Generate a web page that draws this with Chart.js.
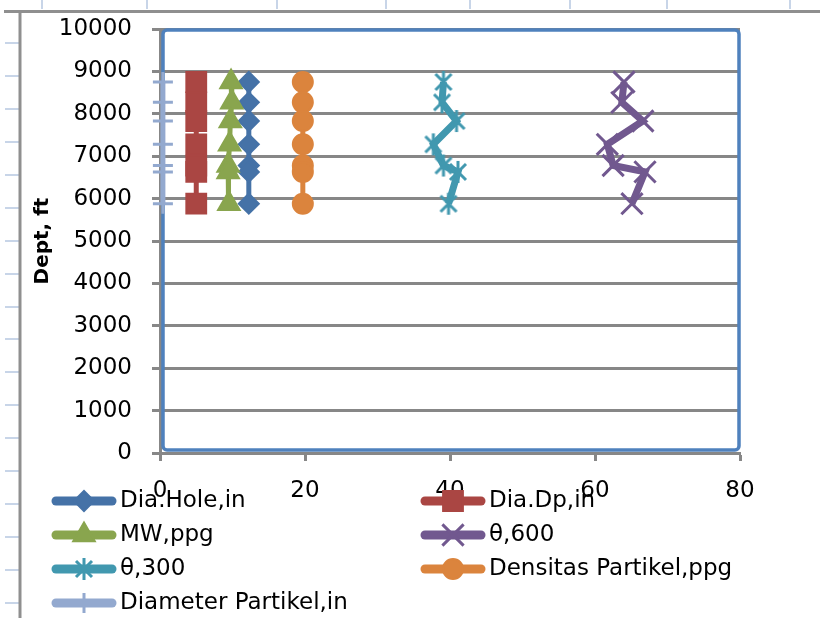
<!DOCTYPE html>
<html><head><meta charset="utf-8">
<script src="https://cdn.jsdelivr.net/npm/chart.js@4/dist/chart.umd.min.js"></script>
<style>html,body{margin:0;padding:0;background:#fff;}#wrap{width:820px;height:618px;position:relative;}</style>
</head><body><div id="wrap"><canvas id="c" width="820" height="618"></canvas></div>
<script>
// ---- data ----
const depthFt = [8750, 8270, 7830, 7280, 6780, 6630, 5880];
const diaHoleIn = [12.25, 12.25, 12.25, 12.25, 12.25, 12.25, 12.25];
const diaDpIn = [5, 5, 5, 5, 5, 5, 5];
const mwPpg = [9.8, 9.9, 9.7, 9.6, 9.4, 9.4, 9.5];
const theta600 = [64.0, 63.7, 66.6, 61.7, 62.5, 66.9, 65.1];
const theta300 = [39.1, 38.9, 40.9, 37.7, 39.1, 41.1, 39.8];
const densitasPartikelPpg = [19.7, 19.7, 19.7, 19.7, 19.7, 19.7, 19.7];
const diameterPartikelIn = [0.4, 0.4, 0.4, 0.4, 0.4, 0.4, 0.4];
const seriesNames = ['Dia.Hole,in', 'Dia.Dp,in', 'MW,ppg', 'θ,600', 'θ,300', 'Densitas Partikel,ppg', 'Diameter Partikel,in'];
const xTickValues = [0, 20, 40, 60, 80];
const yTickValues = [0, 1000, 2000, 3000, 4000, 5000, 6000, 7000, 8000, 9000, 10000];
const yTitle = 'Dept, ft';

// ---- styles ----
const FONT = '"DejaVu Sans", sans-serif';
function starMarker(color) {
  const s = 24, c = document.createElement('canvas');
  c.width = s; c.height = s;
  const g = c.getContext('2d');
  g.strokeStyle = color; g.lineWidth = 3;
  g.beginPath();
  g.moveTo(4, 4); g.lineTo(20, 20);
  g.moveTo(20, 4); g.lineTo(4, 20);
  g.moveTo(12, 1); g.lineTo(12, 23);
  g.stroke();
  return c;
}
const styles = [
  {color: '#4572A7', pointStyle: 'rectRot', radius: 10, bw: 2, lw: 5},
  {color: '#AA4643', pointStyle: 'rect', radius: 14, bw: 2, lw: 5},
  {color: '#89A54E', pointStyle: 'triangle', radius: 12.5, bw: 2, lw: 5},
  {color: '#71588F', pointStyle: 'crossRot', radius: 15, bw: 3, lw: 7},
  {color: '#4198AF', pointStyle: starMarker('#4198AF'), radius: 12, bw: 3, lw: 7},
  {color: '#DB843D', pointStyle: 'circle', radius: 10, bw: 2, lw: 5},
  {color: '#93A9CF', pointStyle: 'cross', radius: 10, bw: 3, lw: 5}
];
const seriesValues = [diaHoleIn, diaDpIn, mwPpg, theta600, theta300, densitasPartikelPpg, diameterPartikelIn];

const datasets = seriesValues.map((vals, i) => ({
  label: seriesNames[i],
  data: vals.map((v, k) => ({x: v, y: depthFt[k]})),
  showLine: true,
  borderColor: styles[i].color,
  backgroundColor: styles[i].color,
  borderWidth: styles[i].lw,
  pointStyle: styles[i].pointStyle,
  pointRadius: styles[i].radius,
  pointHoverRadius: styles[i].radius,
  pointBorderWidth: styles[i].bw,
  pointBackgroundColor: styles[i].color,
  pointBorderColor: styles[i].color,
  clip: false,
  order: 7 - i
}));

const GRAY = '#878787';

const sheetDecor = {
  id: 'sheetDecor',
  beforeDraw(chart) {
    const ctx = chart.ctx;
    ctx.save();
    ctx.strokeStyle = '#c8d5e8';
    ctx.lineWidth = 2;
    [42, 147, 277, 386, 470, 570, 667, 790].forEach(x => {
      ctx.beginPath(); ctx.moveTo(x, 0); ctx.lineTo(x, 9); ctx.stroke();
    });
    [43, 76, 109, 142, 175, 208, 241, 274, 307, 339, 372, 405, 438, 471, 504, 537, 570, 603].forEach(y => {
      ctx.beginPath(); ctx.moveTo(5, y); ctx.lineTo(19, y); ctx.stroke();
    });
    ctx.strokeStyle = '#8f8f8f';
    ctx.lineWidth = 3;
    ctx.beginPath(); ctx.moveTo(4, 11.5); ctx.lineTo(820, 11.5); ctx.stroke();
    ctx.beginPath(); ctx.moveTo(20, 10); ctx.lineTo(20, 618); ctx.stroke();
    ctx.restore();
  }
};

const plotBorder = {
  id: 'plotBorder',
  beforeDatasetsDraw(chart) {
    const a = chart.chartArea, ctx = chart.ctx;
    ctx.save();
    ctx.strokeStyle = '#4F81BD';
    ctx.lineWidth = 3.5;
    ctx.beginPath();
    if (ctx.roundRect) ctx.roundRect(a.left + 3, a.top + 1, a.right - a.left - 4, a.bottom - a.top - 4, 4);
    else ctx.rect(a.left + 3, a.top + 1, a.right - a.left - 4, a.bottom - a.top - 4);
    ctx.stroke();
    ctx.restore();
  }
};

const customLegend = {
  id: 'customLegend',
  afterDraw(chart) {
    const ctx = chart.ctx;
    const colX = [52, 421], rowY = [501, 535, 569, 603], lineLen = 64;
    ctx.save();
    chart.data.datasets.forEach((ds, i) => {
      const x0 = colX[i % 2], y = rowY[Math.floor(i / 2)];
      ctx.strokeStyle = ds.borderColor;
      ctx.lineWidth = 9;
      ctx.lineCap = 'round';
      ctx.beginPath(); ctx.moveTo(x0 + 4, y); ctx.lineTo(x0 + lineLen - 4, y); ctx.stroke();
      ctx.lineCap = 'butt';
      ctx.fillStyle = ds.pointBackgroundColor;
      ctx.strokeStyle = ds.pointBorderColor;
      ctx.lineWidth = ds.pointBorderWidth;
      Chart.helpers.drawPoint(ctx, {pointStyle: ds.pointStyle, radius: ds.pointRadius, rotation: 0, borderWidth: ds.pointBorderWidth}, x0 + lineLen / 2, y);
      ctx.fillStyle = '#000';
      ctx.font = '23px ' + FONT;
      ctx.textBaseline = 'middle';
      ctx.textAlign = 'left';
      ctx.fillText(ds.label, x0 + lineLen + 4, y);
    });
    ctx.restore();
  }
};

new Chart(document.getElementById('c'), {
  type: 'scatter',
  data: {datasets},
  plugins: [sheetDecor, plotBorder, customLegend],
  options: {
    responsive: false,
    animation: false,
    devicePixelRatio: 1,
    layout: {padding: {top: 29, left: 0, right: 80, bottom: 120}},
    plugins: {legend: {display: false}, tooltip: {enabled: false}},
    scales: {
      x: {
        type: 'linear', min: 0, max: 80,
        afterBuildTicks: s => { s.ticks = xTickValues.map(v => ({value: v})); },
        afterFit: s => { s.height = 45; s.paddingLeft = 0; s.paddingRight = 0; },
        grid: {display: true, drawOnChartArea: false, drawTicks: true, tickLength: 8, tickColor: GRAY, tickWidth: 3},
        border: {display: true, color: GRAY, width: 3},
        ticks: {color: '#000', font: {family: FONT, size: 23}, padding: 16, maxRotation: 0, callback: v => String(v)}
      },
      y: {
        type: 'linear', min: 0, max: 10000,
        afterBuildTicks: s => { s.ticks = yTickValues.map(v => ({value: v})); },
        afterFit: s => { s.width = 160; s.paddingTop = 0; s.paddingBottom = 0; },
        grid: {display: true, color: GRAY, lineWidth: 3, drawTicks: true, tickLength: 8, tickColor: GRAY, tickWidth: 3},
        border: {display: true, color: GRAY, width: 3},
        ticks: {color: '#000', font: {family: FONT, size: 23}, padding: 20, callback: v => String(v)},
        title: {display: true, text: yTitle, color: '#000', font: {family: FONT, size: 20, weight: 'bold'}, padding: {top: 31, bottom: 0}}
      }
    }
  }
});
</script></body></html>
